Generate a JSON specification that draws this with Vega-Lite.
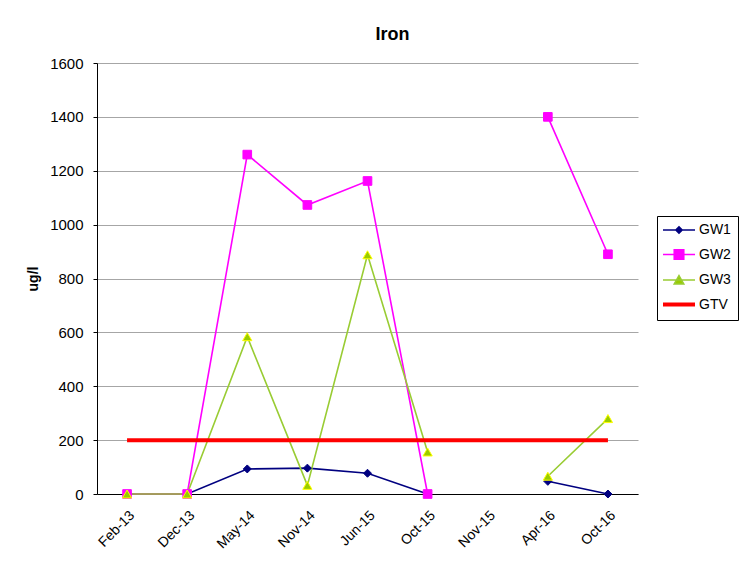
{
  "$schema": "https://vega.github.io/schema/vega-lite/v6.json",
  "width": 541,
  "height": 431,
  "autosize": {"type": "none"},
  "padding": {"left": 97, "top": 63, "right": 107, "bottom": 76},
  "background": "white",
  "config": {"view": {"stroke": null}, "font": "Liberation Sans"},
  "title": {"text": "Iron", "font": "Liberation Sans", "fontSize": 18, "fontWeight": "bold", "anchor": "middle", "dx": 25, "offset": 12, "color": "black"},
  "data": {"values": [
    {"date": "Feb-13", "series": "GW1", "value": 0},
    {"date": "Dec-13", "series": "GW1", "value": 0},
    {"date": "May-14", "series": "GW1", "value": 93},
    {"date": "Nov-14", "series": "GW1", "value": 96},
    {"date": "Jun-15", "series": "GW1", "value": 77},
    {"date": "Oct-15", "series": "GW1", "value": 0},
    {"date": "Nov-15", "series": "GW1", "value": null},
    {"date": "Apr-16", "series": "GW1", "value": 47},
    {"date": "Oct-16", "series": "GW1", "value": 0},
    {"date": "Feb-13", "series": "GW2", "value": 0},
    {"date": "Dec-13", "series": "GW2", "value": 0},
    {"date": "May-14", "series": "GW2", "value": 1260},
    {"date": "Nov-14", "series": "GW2", "value": 1073},
    {"date": "Jun-15", "series": "GW2", "value": 1162},
    {"date": "Oct-15", "series": "GW2", "value": 0},
    {"date": "Nov-15", "series": "GW2", "value": null},
    {"date": "Apr-16", "series": "GW2", "value": 1400},
    {"date": "Oct-16", "series": "GW2", "value": 890},
    {"date": "Feb-13", "series": "GW3", "value": 0},
    {"date": "Dec-13", "series": "GW3", "value": 0},
    {"date": "May-14", "series": "GW3", "value": 584},
    {"date": "Nov-14", "series": "GW3", "value": 32},
    {"date": "Jun-15", "series": "GW3", "value": 888},
    {"date": "Oct-15", "series": "GW3", "value": 156},
    {"date": "Nov-15", "series": "GW3", "value": null},
    {"date": "Apr-16", "series": "GW3", "value": 66},
    {"date": "Oct-16", "series": "GW3", "value": 280},
    {"date": "Feb-13", "series": "GTV", "value": 200},
    {"date": "Dec-13", "series": "GTV", "value": 200},
    {"date": "May-14", "series": "GTV", "value": 200},
    {"date": "Nov-14", "series": "GTV", "value": 200},
    {"date": "Jun-15", "series": "GTV", "value": 200},
    {"date": "Oct-15", "series": "GTV", "value": 200},
    {"date": "Nov-15", "series": "GTV", "value": 200},
    {"date": "Apr-16", "series": "GTV", "value": 200},
    {"date": "Oct-16", "series": "GTV", "value": 200}
  ]},
  "encoding": {
    "x": {
      "field": "date", "type": "ordinal",
      "scale": {"type": "point", "padding": 0.5, "domain": ["Feb-13", "Dec-13", "May-14", "Nov-14", "Jun-15", "Oct-15", "Nov-15", "Apr-16", "Oct-16"]},
      "axis": {"title": null, "labelAngle": -45, "labelFont": "Liberation Sans", "labelFontSize": 14, "labelColor": "black", "ticks": false, "domainColor": "black", "domainWidth": 1, "labelPadding": 14, "grid": false}
    },
    "y": {
      "field": "value", "type": "quantitative",
      "scale": {"domain": [0, 1600], "nice": false},
      "axis": {"title": "ug/l", "titleFont": "Liberation Sans", "titleFontSize": 14, "titleFontWeight": "bold", "titleColor": "black", "titlePadding": 9, "labelFont": "Liberation Sans", "labelFontSize": 15, "labelColor": "black", "format": "d", "values": [0, 200, 400, 600, 800, 1000, 1200, 1400, 1600], "grid": true, "gridColor": "#a6a6a6", "gridWidth": 1, "domainColor": "black", "domainWidth": 1, "tickColor": "black", "tickSize": 4, "labelPadding": 10}
    }
  },
  "layer": [
    {
      "transform": [{"filter": "datum.series !== 'GTV'"}],
      "mark": {"type": "line", "strokeWidth": 1.6, "invalid": "break-paths-filter-domains"},
      "encoding": {
        "color": {
          "field": "series", "type": "nominal",
          "scale": {"domain": ["GW1", "GW2", "GW3", "GTV"], "range": ["#000080", "#FF00FF", "#99CC33", "#FF0000"]},
          "legend": {
            "title": null, "orient": "none", "legendX": 560, "legendY": 153,
            "strokeColor": "black", "fillColor": "white", "padding": 7,
            "labelFont": "Liberation Sans", "labelFontSize": 14, "labelColor": "black",
            "symbolSize": 256, "symbolOffset": 8, "labelOffset": 13, "rowPadding": 9.5,
            "encode": {"symbols": {"update": {
              "shape": {"signal": "datum.value === 'GW1' ? 'M-2,0L2,0M0,-0.4L0.4,0L0,0.4L-0.4,0Z' : datum.value === 'GW2' ? 'M-2,0L2,0M-0.6,-0.6L0.6,-0.6L0.6,0.6L-0.6,0.6Z' : datum.value === 'GW3' ? 'M-2,0L2,0M0,-0.55L0.6,0.5L-0.6,0.5Z' : 'M-2,0L2,0'"},
              "fill": {"signal": "datum.value === 'GW1' ? '#000080' : datum.value === 'GW2' ? '#FF00FF' : datum.value === 'GW3' ? '#99CC00' : 'transparent'"},
              "stroke": {"signal": "datum.value === 'GW1' ? '#000080' : datum.value === 'GW2' ? '#FF00FF' : datum.value === 'GW3' ? '#99CC33' : '#FF0000'"},
              "strokeWidth": {"signal": "datum.value === 'GTV' ? 4 : 1.5"},
              "opacity": {"value": 1}
            }}}
          }
        }
      }
    },
    {
      "transform": [{"filter": "datum.series === 'GTV'"}],
      "mark": {"type": "line", "strokeWidth": 4, "color": "#FF0000"},
      "encoding": {}
    },
    {
      "transform": [{"filter": "datum.series !== 'GTV'"}],
      "mark": {"type": "point", "filled": false, "strokeWidth": 1, "opacity": 1},
      "encoding": {
        "shape": {"field": "series", "type": "nominal", "scale": {"domain": ["GW1", "GW2", "GW3"], "range": ["diamond", "square", "triangle-up"]}, "legend": null},
        "fill": {"field": "series", "type": "nominal", "scale": {"domain": ["GW1", "GW2", "GW3"], "range": ["#000080", "#FF00FF", "#99CC00"]}, "legend": null},
        "stroke": {"field": "series", "type": "nominal", "scale": {"domain": ["GW1", "GW2", "GW3"], "range": ["#000080", "#FF00FF", "#FFFF00"]}, "legend": null},
        "size": {"field": "series", "type": "nominal", "scale": {"domain": ["GW1", "GW2", "GW3"], "range": [64, 85, 81]}, "legend": null}
      }
    }
  ]
}
